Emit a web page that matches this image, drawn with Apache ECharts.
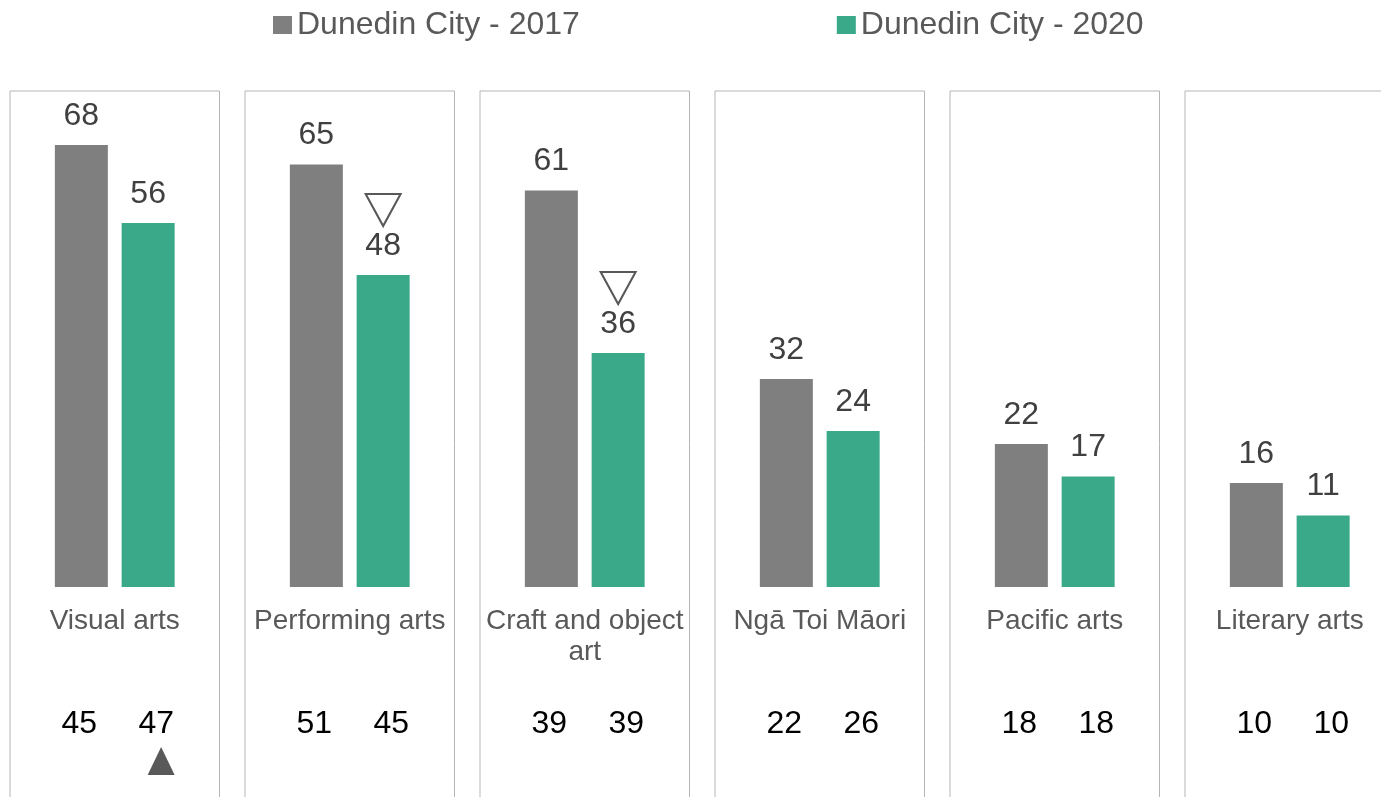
<!DOCTYPE html>
<html>
<head>
<meta charset="utf-8">
<script src="https://cdn.jsdelivr.net/npm/echarts@6/dist/echarts.min.js"></script>
<style>
  html, body { margin: 0; padding: 0; background: #ffffff; }
  #chart { width: 1381px; height: 797px; }
</style>
</head>
<body>
<div id="chart"></div>
<script>
// ---- data ----
const categories = ['Visual arts', 'Performing arts', 'Craft and object\nart', 'Ngā Toi Māori', 'Pacific arts', 'Literary arts'];
const seriesNames = ['Dunedin City - 2017', 'Dunedin City - 2020'];
const values2017 = [68, 65, 61, 32, 22, 16];
const values2020 = [56, 48, 36, 24, 17, 11];
const base2017 = [45, 51, 39, 22, 18, 10];
const base2020 = [47, 45, 39, 26, 18, 10];
const sigChange2020 = ['', 'down', 'down', '', '', ''];
const baseFlag2020 = ['up', '', '', '', '', ''];

// ---- layout / style ----
const FONT = 'Liberation Sans, Arial, sans-serif';
const GRAY = '#7f7f7f';
const TEAL = '#3aa98a';
const panelLeft0 = 10, panelStep = 235, panelWidth = 209.5;
const gridTop = 91, gridHeight = 720, baselineY = 587, pxPerUnit = 6.5;
const gridBottom = gridTop + gridHeight;
const yMax = (baselineY - gridTop) / pxPerUnit;
const yMin = -(gridBottom - baselineY) / pxPerUnit;
const catLabelTop = 606, baseLabelTop = 708;

const grids = [], xAxes = [], yAxes = [], series = [];
categories.forEach((cat, i) => {
  grids.push({
    left: panelLeft0 + i * panelStep, top: gridTop, width: panelWidth, height: gridHeight,
    outerBoundsMode: 'none', containLabel: false,
    show: true, borderColor: '#b5b5b5', borderWidth: 1, backgroundColor: 'transparent'
  });
  // category name axis
  xAxes.push({
    gridIndex: i, type: 'category', data: [cat], position: 'bottom', offset: -(gridBottom - catLabelTop),
    axisLine: { show: false, onZero: false }, axisTick: { show: false },
    axisLabel: { margin: 0, fontSize: 28, lineHeight: 31, color: '#595959', fontFamily: FONT, interval: 0 }
  });
  // base numbers axis
  xAxes.push({
    gridIndex: i, type: 'category', data: [cat], position: 'bottom', offset: -(gridBottom - baseLabelTop),
    axisLine: { show: false, onZero: false }, axisTick: { show: false },
    axisLabel: {
      margin: 0, interval: 0, padding: [0, 0, 0, 6],
      formatter: () => `{a|${base2017[i]}}{b|${base2020[i]}}`,
      rich: {
        a: { width: 77, align: 'center', fontSize: 32, lineHeight: 32, color: '#000000', fontFamily: FONT },
        b: { width: 77, align: 'center', fontSize: 32, lineHeight: 32, color: '#000000', fontFamily: FONT }
      }
    }
  });
  yAxes.push({
    gridIndex: i, type: 'value', min: yMin, max: yMax, show: true,
    axisLine: { show: false }, axisTick: { show: false }, axisLabel: { show: false }, splitLine: { show: false }
  });

  const labelStyle = { show: true, position: 'top', distance: 13, fontSize: 32, color: '#404040', fontFamily: FONT };
  series.push({
    type: 'bar', name: seriesNames[0], xAxisIndex: 2 * i, yAxisIndex: i,
    data: [values2017[i]], barWidth: 53, barGap: '26%',
    itemStyle: { color: GRAY }, label: labelStyle
  });
  const marks = [];
  if (sigChange2020[i] === 'down') {
    marks.push({
      coord: [0, values2020[i]], symbol: 'triangle', symbolRotate: 180,
      symbolSize: [35, 32], symbolOffset: [0, -65],
      itemStyle: { color: '#ffffff', borderColor: '#595959', borderWidth: 2 }
    });
  }
  if (baseFlag2020[i] === 'up') {
    marks.push({
      coord: [0, 0], symbol: 'triangle',
      symbolSize: [27, 28], symbolOffset: [13, 174],
      itemStyle: { color: '#595959' }
    });
  }
  series.push({
    type: 'bar', name: seriesNames[1], xAxisIndex: 2 * i, yAxisIndex: i,
    data: [values2020[i]], barWidth: 53, barGap: '26%',
    itemStyle: { color: TEAL }, label: labelStyle,
    markPoint: marks.length ? { data: marks, label: { show: false }, silent: true, animation: false } : undefined
  });
});

const chart = echarts.init(document.getElementById('chart'), null, { renderer: 'canvas' });
chart.setOption({
  animation: false,
  backgroundColor: '#ffffff',
  legend: {
    data: seriesNames, left: 268, top: 4, icon: 'rect',
    itemWidth: 19, itemHeight: 18, itemGap: 257,
    textStyle: { fontSize: 32, color: '#595959', fontFamily: FONT }
  },
  grid: grids, xAxis: xAxes, yAxis: yAxes, series: series
});
</script>
</body>
</html>
